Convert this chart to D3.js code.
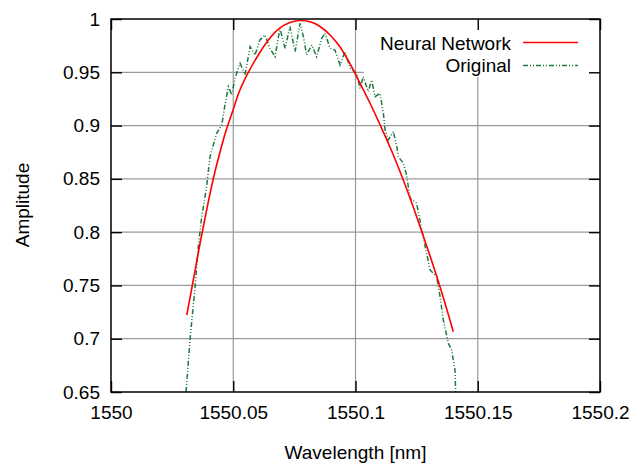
<!DOCTYPE html>
<html>
<head>
<meta charset="utf-8">
<script src="https://cdn.jsdelivr.net/npm/d3@7"></script>
<style>
  html, body { margin: 0; padding: 0; background: #fff; }
  svg { display: block; font-family: "Liberation Sans", Arial, sans-serif; }
</style>
</head>
<body>
<svg id="chart" width="630" height="464"></svg>
<script>
// ---- data ----
const xTicks = [1550, 1550.05, 1550.1, 1550.15, 1550.2];
const xTickLabels = ["1550", "1550.05", "1550.1", "1550.15", "1550.2"];
const yTicks = [0.65, 0.7, 0.75, 0.8, 0.85, 0.9, 0.95, 1];
const yTickLabels = ["0.65", "0.7", "0.75", "0.8", "0.85", "0.9", "0.95", "1"];

const nnX = [1550.0310, 1550.0334, 1550.0366, 1550.0397, 1550.0421, 1550.0446, 1550.0470, 1550.0495,
             1550.0524, 1550.0560, 1550.0605, 1550.0650, 1550.0691, 1550.0732, 1550.0773,
             1550.0814, 1550.0855, 1550.0896, 1550.0937, 1550.0978, 1550.1018, 1550.1059, 1550.1100,
             1550.1141, 1550.1182, 1550.1223, 1550.1264, 1550.1305, 1550.1346, 1550.1400];
const nnY = [0.7222, 0.7518, 0.7917, 0.8274, 0.8527, 0.8752, 0.8949, 0.9118,
             0.9315, 0.9493, 0.9672, 0.9822, 0.9916, 0.9967, 0.9986,
             0.9974, 0.9930, 0.9850, 0.9737, 0.9578, 0.9399, 0.9212, 0.9010,
             0.8799, 0.8569, 0.8320, 0.8053, 0.7776, 0.7485, 0.7066];

const origX = [1550.0303, 1550.0307, 1550.0323, 1550.0344, 1550.0357, 1550.0371, 1550.0391, 1550.0405,
               1550.0432, 1550.0453, 1550.0466, 1550.0480, 1550.0494, 1550.0507, 1550.0528, 1550.0548,
               1550.0569, 1550.0589, 1550.0609, 1550.0630, 1550.0650, 1550.0671, 1550.0691, 1550.0712,
               1550.0732, 1550.0753, 1550.0773, 1550.0787, 1550.0800, 1550.0821, 1550.0841, 1550.0862,
               1550.0875, 1550.0896, 1550.0916, 1550.0937, 1550.0957, 1550.0978, 1550.1005, 1550.1018,
               1550.1032, 1550.1052, 1550.1066, 1550.1080, 1550.1100, 1550.1114, 1550.1121, 1550.1134,
               1550.1155, 1550.1169, 1550.1175, 1550.1196, 1550.1209, 1550.1223, 1550.1250, 1550.1271,
               1550.1291, 1550.1305, 1550.1332, 1550.1346, 1550.1359, 1550.1380, 1550.1393, 1550.1407, 1550.1411];
const origY = [0.6380, 0.6503, 0.6988, 0.7488, 0.7863, 0.8145, 0.8426, 0.8708,
               0.8927, 0.9005, 0.9193, 0.9365, 0.9287, 0.9444, 0.9584, 0.9475,
               0.9740, 0.9662, 0.9803, 0.9850, 0.9725, 0.9646, 0.9913, 0.9725,
               0.9928, 0.9693, 0.9960, 0.9834, 0.9662, 0.9756, 0.9646, 0.9819,
               0.9866, 0.9725, 0.9709, 0.9568, 0.9693, 0.9540, 0.9490, 0.9350,
               0.9459, 0.9318, 0.9428, 0.9271, 0.9303, 0.9115, 0.8958, 0.8865,
               0.8943, 0.8802, 0.8708, 0.8646, 0.8536, 0.8318, 0.8271, 0.8020,
               0.7801, 0.7645, 0.7582, 0.7394, 0.7176, 0.6957, 0.6894, 0.6706, 0.6400];

// ---- layout ----
const svg = d3.select("#chart");
const L = 111, R = 600, T = 19, B = 392;
const FONT = 19;
const x = d3.scaleLinear().domain([1550, 1550.2]).range([L, R]);
const y = d3.scaleLinear().domain([0.65, 1]).range([B, T]);

svg.append("defs").append("clipPath").attr("id", "plotclip")
  .append("rect").attr("x", L).attr("y", T).attr("width", R - L).attr("height", B - T);

// grid
const grid = svg.append("g").attr("stroke", "#9a9a9a").attr("stroke-width", 1.2);
grid.selectAll(".gx").data(xTicks.slice(1, -1)).join("line")
  .attr("x1", d => x(d)).attr("x2", d => x(d)).attr("y1", T).attr("y2", B);
grid.selectAll(".gy").data(yTicks.slice(1, -1)).join("line")
  .attr("y1", d => y(d)).attr("y2", d => y(d)).attr("x1", L).attr("x2", R);

// data lines
const plot = svg.append("g").attr("clip-path", "url(#plotclip)");
const origData = origX.map((v, i) => [v, origY[i]]);
const nnData = nnX.map((v, i) => [v, nnY[i]]);

plot.append("path").datum(origData)
  .attr("fill", "none").attr("stroke", "#1c7a3e").attr("stroke-width", 1.5)
  .attr("stroke-dasharray", "5,2,1,2,1,2")
  .attr("d", d3.line().x(d => x(d[0])).y(d => y(d[1])));

plot.append("path").datum(nnData)
  .attr("fill", "none").attr("stroke", "#ff0000").attr("stroke-width", 1.6)
  .attr("d", d3.line().curve(d3.curveMonotoneX).x(d => x(d[0])).y(d => y(d[1])));

// legend (opaque box)
svg.append("rect").attr("x", 364).attr("y", T + 1).attr("width", R - 364 - 1).attr("height", 57).attr("fill", "#fff");
const leg = svg.append("g").attr("font-size", FONT).attr("fill", "#000");
leg.append("text").attr("x", 511).attr("y", 49.5).attr("text-anchor", "end").text("Neural Network");
leg.append("text").attr("x", 511).attr("y", 71.5).attr("text-anchor", "end").text("Original");
svg.append("line").attr("x1", 523).attr("x2", 578).attr("y1", 42.5).attr("y2", 42.5)
  .attr("stroke", "#ff0000").attr("stroke-width", 1.6);
svg.append("line").attr("x1", 523).attr("x2", 578).attr("y1", 65.5).attr("y2", 65.5)
  .attr("stroke", "#1c7a3e").attr("stroke-width", 1.5).attr("stroke-dasharray", "5,2,1,2,1,2");

// axes
function styleAxis(g) {
  g.select(".domain").remove();
  g.selectAll(".tick line").attr("stroke", "#000").attr("stroke-width", 1.4);
  g.selectAll(".tick text").attr("fill", "#000").attr("font-size", FONT)
    .attr("font-family", "Liberation Sans, Arial, sans-serif");
}
svg.append("g").attr("transform", `translate(0,${B})`)
  .call(d3.axisBottom(x).tickValues(xTicks).tickFormat((d, i) => xTickLabels[i]).tickSize(-11).tickPadding(13.5))
  .call(styleAxis);
svg.append("g").attr("transform", `translate(0,${T})`)
  .call(d3.axisTop(x).tickValues(xTicks).tickFormat("").tickSize(-11))
  .call(styleAxis);
svg.append("g").attr("transform", `translate(${L},0)`)
  .call(d3.axisLeft(y).tickValues(yTicks).tickFormat((d, i) => yTickLabels[i]).tickSize(-11).tickPadding(11))
  .call(styleAxis);
svg.append("g").attr("transform", `translate(${R},0)`)
  .call(d3.axisRight(y).tickValues(yTicks).tickFormat("").tickSize(-11))
  .call(styleAxis);

// border
svg.append("rect").attr("x", L).attr("y", T).attr("width", R - L).attr("height", B - T)
  .attr("fill", "none").attr("stroke", "#000").attr("stroke-width", 1.5);

// axis titles
svg.append("text").attr("x", (L + R) / 2).attr("y", 459).attr("text-anchor", "middle")
  .attr("font-size", FONT).text("Wavelength [nm]");
svg.append("text").attr("transform", "translate(29,205) rotate(-90)").attr("text-anchor", "middle")
  .attr("font-size", FONT).text("Amplitude");
</script>
</body>
</html>
